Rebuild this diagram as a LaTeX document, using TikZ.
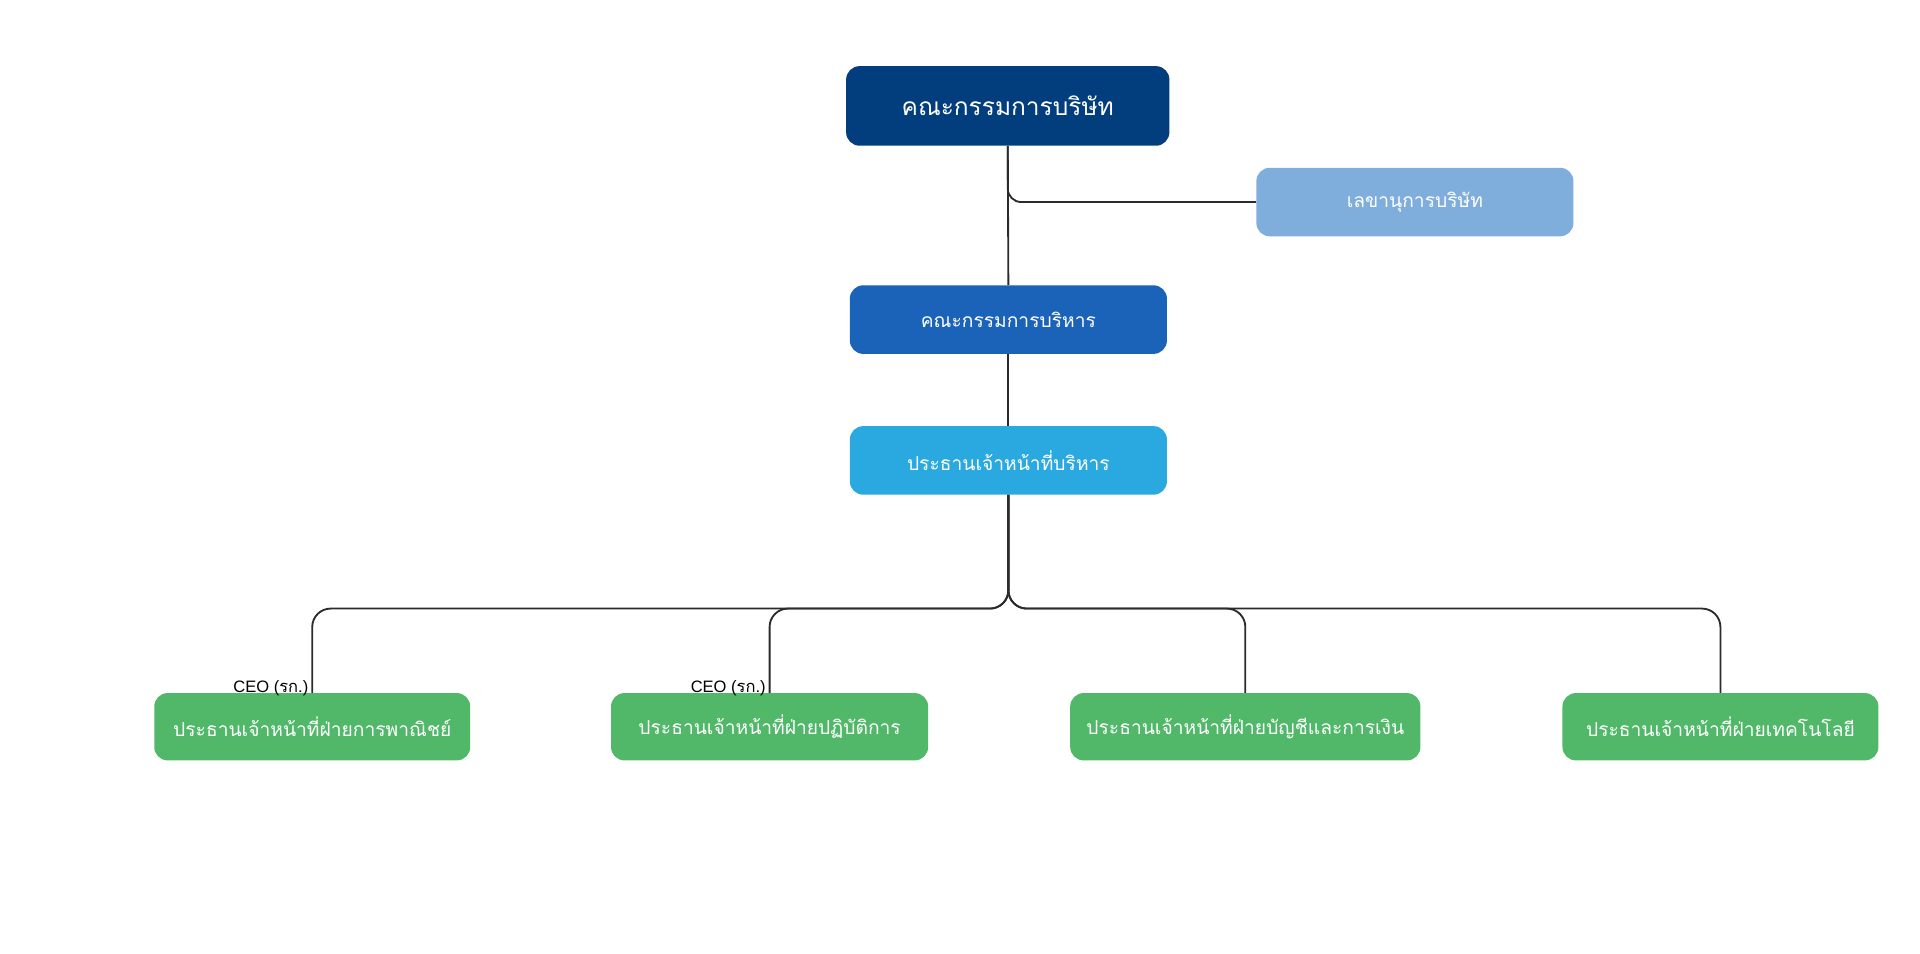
\documentclass[tikz,border=0pt]{standalone}
\usepackage{fontspec}
\newfontfamily\thaifont[Script=Thai]{Loma}
\setmainfont{Liberation Sans}
\definecolor{cboard}{HTML}{023E7D}
\definecolor{csec}{HTML}{7FAEDC}
\definecolor{cexec}{HTML}{1B63B8}
\definecolor{cceo}{HTML}{29A9E0}
\definecolor{cgreen}{HTML}{50B868}
\definecolor{cline}{HTML}{2B2B2B}
\tikzset{
  box/.style={rounded corners=11pt, text=white, align=center, inner sep=0pt,
    font=\thaifont\fontsize{15.7}{18}\selectfont},
  link/.style={draw=cline, line width=1.5pt},
  tag/.style={font=\fontsize{13.5}{15}\selectfont, anchor=south east, inner sep=0pt},
}
\begin{document}
\begin{tikzpicture}[x=1pt,y=-1pt]
\useasboundingbox[fill=white] (0,0) rectangle (1568,779);
\node[box, fill=cboard, minimum width=264pt, minimum height=65pt,
  font=\thaifont\fontsize{20}{22}\selectfont] (board) at (823,86.5) {คณะกรรมการบริษัท};
\node[box, fill=csec, minimum width=259pt, minimum height=56pt] (sec) at (1155.5,165) {เลขานุการบริษัท};
\node[box, fill=cexec, minimum width=259pt, minimum height=56pt] (exec) at (823.5,261) {คณะกรรมการบริหาร};
\node[box, fill=cceo, minimum width=259pt, minimum height=56pt] (ceo) at (823.5,376) {ประธานเจ้าหน้าที่บริหาร};
\node[box, fill=cgreen, minimum width=258pt, minimum height=55pt] (b1) at (255,593.5) {ประธานเจ้าหน้าที่ฝ่ายการพาณิชย์};
\node[box, fill=cgreen, minimum width=259pt, minimum height=55pt] (b2) at (628.5,593.5) {ประธานเจ้าหน้าที่ฝ่ายปฏิบัติการ};
\node[box, fill=cgreen, minimum width=286pt, minimum height=55pt] (b3) at (1017,593.5) {ประธานเจ้าหน้าที่ฝ่ายบัญชีและการเงิน};
\node[box, fill=cgreen, minimum width=258pt, minimum height=55pt] (b4) at (1405,593.5) {ประธานเจ้าหน้าที่ฝ่ายเทคโนโลยี};
\coordinate (bus) at (823.5,497);
\draw[link] (board.south) -- (exec.north);
\draw[link, rounded corners=11pt] (board.south) |- (sec.west);
\draw[link] (exec.south) -- (ceo.north);
\draw[link, rounded corners=15pt] (ceo.south) |- (bus -| b1.north) -- (b1.north);
\draw[link, rounded corners=15pt] (ceo.south) |- (bus -| b2.north) -- (b2.north);
\draw[link, rounded corners=15pt] (ceo.south) |- (bus -| b3.north) -- (b3.north);
\draw[link, rounded corners=15pt] (ceo.south) |- (bus -| b4.north) -- (b4.north);
\node[tag] (t1) at ([xshift=-3pt,yshift=-3pt]b1.north) {CEO ({\thaifont รก.})};
\node[tag] (t2) at ([xshift=-3pt,yshift=-3pt]b2.north) {CEO ({\thaifont รก.})};
\end{tikzpicture}
\end{document}
